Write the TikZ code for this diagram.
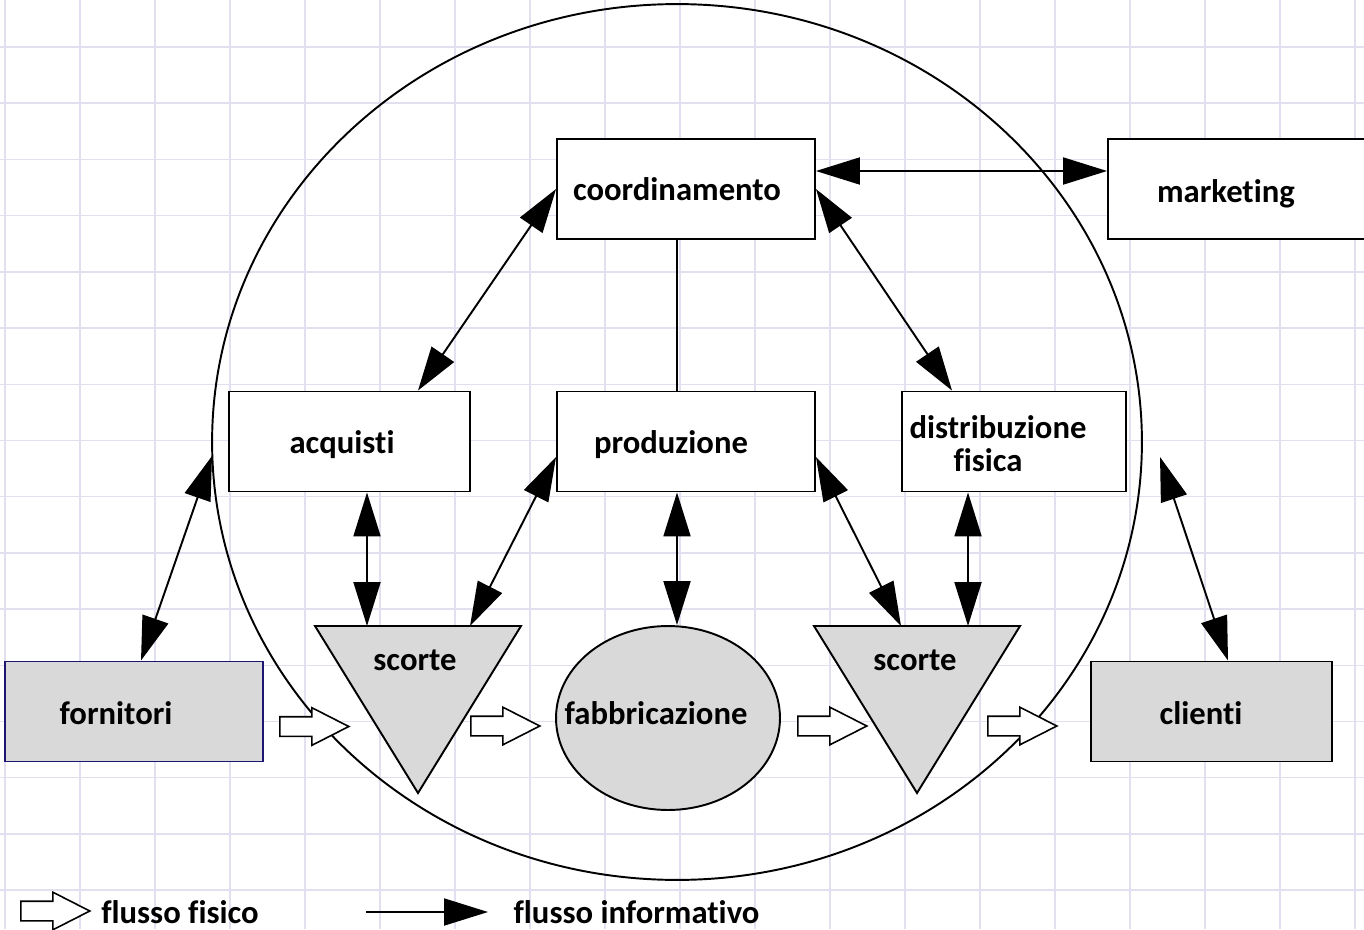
\documentclass[tikz,border=0pt]{standalone}
\usepackage{fontspec}
\setmainfont{Carlito}[Ligatures={NoCommon}]
\usepackage{xcolor}
\usepackage{tikz}
\usetikzlibrary{arrows.meta,positioning,shapes.geometric,shapes.arrows,calc}

\definecolor{gridline}{RGB}{226,224,240}
\definecolor{boxgray}{RGB}{217,217,217}
\definecolor{navyline}{RGB}{28,22,112}

\begin{document}
\begin{tikzpicture}[x=0.02cm, y=-0.02cm,
  every node/.style={font=\fontsize{18.6}{19}\selectfont\bfseries},
  box/.style={draw, line width=1.1pt, fill=white, minimum height=2cm, inner sep=0pt},
  stock/.style={draw, line width=1.1pt, fill=boxgray, line join=miter},
  flow/.style={single arrow, draw, fill=white, line width=0.9pt, single arrow head extend=0.18cm,
    single arrow tip angle=54, inner xsep=0pt, inner ysep=0.18cm, minimum height=1.38cm, anchor=tail},
  info/.style={line width=1.1pt, -{Triangle[length=0.88cm,width=0.54cm]}},
  biinfo/.style={line width=1.1pt, {Triangle[length=0.88cm,width=0.54cm]}-{Triangle[length=0.88cm,width=0.54cm]}}]

  % Sheet
  \useasboundingbox (0,0) rectangle (1364,929);
  \fill[white] (0,0) rectangle (1364,929);
  \foreach \gx in {0,...,18} \draw[gridline, line width=0.8pt] (5+75*\gx,0) -- (5+75*\gx,929);
  \foreach \gy in {0,...,15} \draw[gridline, line width=0.8pt] (0,47+56.2*\gy) -- (1364,47+56.2*\gy);

  % Company boundary
  \draw[line width=1.1pt] (677,442) ellipse [x radius=9.3cm, y radius=8.76cm];

  % Functions
  \node[box, minimum width=5.16cm, label={[xshift=-0.18cm]center:coordinamento}] (coord) at (686,189) {};
  \node[box, minimum width=5.24cm, label={[xshift=-0.26cm, yshift=-0.1cm]center:marketing}] (mkt) at (1239,189) {};
  \node[box, minimum width=4.82cm, label={[xshift=-0.15cm, yshift=-0.06cm]center:acquisti}] (acq) at (349.5,441.5) {};
  \node[box, minimum width=5.16cm, label={[xshift=-0.3cm, yshift=-0.06cm]center:produzione}] (prod) at (686,441.5) {};
  \node[box, minimum width=4.48cm, label={[xshift=-0.32cm, yshift=-0.04cm, align=center]center:distribuzione\\fisica\hspace*{0.4cm}}] (dist) at (1014,441.5) {};

  % Outside partners
  \node[box, fill=boxgray, draw=navyline, minimum width=5.16cm, label={[xshift=-0.36cm, yshift=-0.03cm]center:fornitori}] (forn) at (134,711.5) {};
  \node[box, fill=boxgray, minimum width=4.82cm, label={[xshift=-0.21cm, yshift=-0.03cm]center:clienti}] (cli) at (1211.5,711.5) {};

  % Stocks and manufacturing
  \draw[stock] (315,626) -- (521,626) -- (418,793) -- cycle;
  \node (sc1) at (415,660) {scorte};
  \draw[stock] (814,626) -- (1020,626) -- (917,793) -- cycle;
  \node (sc2) at (915,660) {scorte};
  \node[ellipse, draw, fill=boxgray, line width=1.1pt, minimum width=4.48cm, minimum height=3.68cm, inner sep=0pt,
    label={[xshift=-0.24cm, yshift=0.1cm]center:fabbricazione}] (fabb) at (668,718) {};

  \coordinate (sc1a) at (367,626);
  \coordinate (sc1b) at (470,626);
  \coordinate (sc2a) at (901,626);
  \coordinate (sc2b) at (968,626);
  \coordinate (circL) at (212,456);
  \coordinate (circR) at (1160,457);

  % Information flow
  \draw[biinfo] ([yshift=0.36cm]coord.east) -- ([yshift=0.36cm]mkt.west);
  \draw[biinfo] (coord.west) -- ([xshift=1.37cm]acq.north);
  \draw[biinfo] (coord.east) -- ([xshift=-1.24cm]dist.north);
  \draw[line width=1.1pt] ([xshift=-0.18cm]coord.south) -- ([xshift=-0.18cm]prod.north);
  \draw[biinfo] ([xshift=0.35cm]acq.south) -- (sc1a);
  \draw[biinfo] ([yshift=-0.31cm]prod.west) -- (sc1b);
  \draw[biinfo] ([xshift=-0.18cm]prod.south) -- ([xshift=0.18cm]fabb.north);
  \draw[biinfo] ([yshift=-0.31cm]prod.east) -- (sc2a);
  \draw[biinfo] ([xshift=-0.92cm]dist.south) -- (sc2b);
  \draw[biinfo] ([xshift=0.14cm]forn.north) -- (circL);
  \draw[biinfo] ([xshift=0.33cm]cli.north) -- (circR);

  % Physical flow
  \node[flow] (f1) at (279,726.5) {};
  \node[flow] (f2) at (470,726) {};
  \node[flow] (f3) at (797,726) {};
  \node[flow] (f4) at (987,726) {};

  % Legend
  \node[flow] (lf) at (20,911) {};
  \node (lft) at (180,912) {flusso fisico};
  \coordinate (li0) at (366,912);
  \coordinate (li1) at (488,912);
  \draw[info] (li0) -- (li1);
  \node (lit) at (636.5,912) {flusso informativo};

\end{tikzpicture}
\end{document}
